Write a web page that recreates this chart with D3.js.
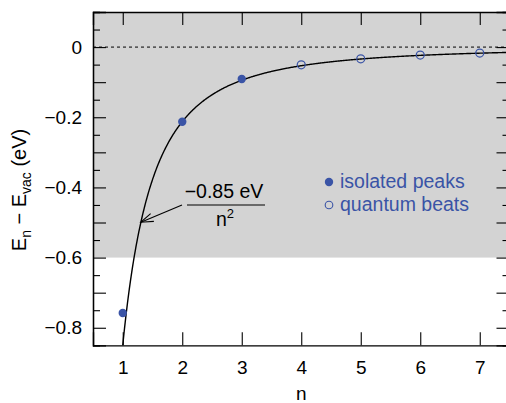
<!DOCTYPE html>
<html>
<head>
<meta charset="utf-8">
<script src="https://cdn.jsdelivr.net/npm/d3@7"></script>
<style>
  html, body { margin: 0; padding: 0; background: #fff; }
  svg { display: block; font-family: "Liberation Sans", Arial, Helvetica, sans-serif; }
</style>
</head>
<body>
<svg id="chart" width="506" height="403"></svg>
<script>
// Binding energies of Rydberg levels relative to the vacuum level
const isolatedN = [1, 2, 3];
const isolatedE = [-0.758, -0.213, -0.091];
const beatsN = [4, 5, 6, 7];
const beatsE = [-0.0506, -0.0334, -0.0229, -0.0171];
const rydbergConst = -0.85; // eV, E_n = -0.85 eV / n^2
const xTicks = [1, 2, 3, 4, 5, 6, 7];
const yMajor = [0, -0.1, -0.2, -0.3, -0.4, -0.5, -0.6, -0.7, -0.8];
const yLabeled = [0, -0.2, -0.4, -0.6, -0.8];
const yMinor = [0.05, -0.05, -0.15, -0.25, -0.35, -0.45, -0.55, -0.65, -0.75];
const shadeTop = 0.1, shadeBottom = -0.6;
const legendLabels = ["isolated peaks", "quantum beats"];

const blue = "#3a54a6";
const svg = d3.select("#chart");
const mLeft = 93, mRight = 509.5, mTop = 12, mBottom = 345.3;

const x = d3.scaleLinear().domain([0.5, 7.5]).range([mLeft, mRight]);
const y = d3.scaleLinear().domain([-0.85, 0.1]).range([mBottom, mTop]);

// shaded band
svg.append("rect")
  .attr("x", mLeft).attr("width", mRight - mLeft)
  .attr("y", y(shadeTop)).attr("height", y(shadeBottom) - y(shadeTop))
  .attr("fill", "#d3d3d3");

// vacuum level
svg.append("line")
  .attr("x1", mLeft).attr("x2", mRight)
  .attr("y1", y(0)).attr("y2", y(0))
  .attr("stroke", "#000").attr("stroke-width", 1)
  .attr("stroke-dasharray", "3,3");

// axes with inward ticks
const fs = "19px";
const axB = svg.append("g").attr("transform", `translate(0,${mBottom})`)
  .call(d3.axisBottom(x).tickValues(xTicks).tickSize(-13).tickPadding(15).tickFormat(d3.format("d")));
const axT = svg.append("g").attr("transform", `translate(0,${mTop})`)
  .call(d3.axisTop(x).tickValues(xTicks).tickSize(-13).tickFormat(""));
const fmtY = d => yLabeled.some(v => Math.abs(v - d) < 1e-9) ? (d === 0 ? "0" : d3.format(".1f")(d).replace("-", "\u2212")) : "";
const axL = svg.append("g").attr("transform", `translate(${mLeft},0)`)
  .call(d3.axisLeft(y).tickValues(yMajor).tickSize(-13).tickPadding(11).tickFormat(fmtY));
const axLm = svg.append("g").attr("transform", `translate(${mLeft},0)`)
  .call(d3.axisLeft(y).tickValues(yMinor).tickSize(-7).tickFormat(""));
const axR = svg.append("g").attr("transform", `translate(${mRight},0)`)
  .call(d3.axisRight(y).tickValues(yMajor).tickSize(-13).tickFormat(""));
const axRm = svg.append("g").attr("transform", `translate(${mRight},0)`)
  .call(d3.axisRight(y).tickValues(yMinor).tickSize(-7).tickFormat(""));
[axB, axT, axL, axLm, axR, axRm].forEach(g => {
  g.select(".domain").attr("stroke", "#000").attr("stroke-width", 1.3);
  g.selectAll(".tick line").attr("stroke", "#000").attr("stroke-width", 1.1);
  g.selectAll("text").attr("fill", "#000").style("font-size", fs).style("font-family", "inherit");
});

// model curve
const nCurve = d3.range(1, 7.5001, 0.01);
svg.append("path")
  .datum(nCurve)
  .attr("fill", "none").attr("stroke", "#000").attr("stroke-width", 1.4)
  .attr("d", d3.line().x(n => x(n)).y(n => y(rydbergConst / (n * n))));

// measured levels
svg.selectAll("circle.iso").data(isolatedN).join("circle")
  .attr("class", "iso")
  .attr("cx", n => x(n)).attr("cy", (n, i) => y(isolatedE[i]))
  .attr("r", 4.2).attr("fill", blue);
svg.selectAll("circle.beat").data(beatsN).join("circle")
  .attr("class", "beat")
  .attr("cx", n => x(n)).attr("cy", (n, i) => y(beatsE[i]))
  .attr("r", 4).attr("fill", "none").attr("stroke", blue).attr("stroke-width", 1.2);

// legend
const lg = svg.append("g").attr("transform", "translate(329,182)");
lg.append("circle").attr("cx", 0).attr("cy", 0).attr("r", 4.2).attr("fill", blue);
lg.append("circle").attr("cx", 0).attr("cy", 23).attr("r", 3.8).attr("fill", "none").attr("stroke", blue).attr("stroke-width", 1.1);
lg.selectAll("text").data(legendLabels).join("text")
  .attr("x", 11).attr("y", (d, i) => 6 + i * 23)
  .attr("fill", blue).style("font-size", "19.5px")
  .text(d => d);

// annotation: E_n = -0.85 eV / n^2
const ann = svg.append("g");
ann.append("text").attr("x", 224).attr("y", 198).attr("text-anchor", "middle")
  .style("font-size", "19.5px").text("\u22120.85 eV");
ann.append("line").attr("x1", 187).attr("x2", 265).attr("y1", 205).attr("y2", 205)
  .attr("stroke", "#000").attr("stroke-width", 1.2);
const nt = ann.append("text").attr("x", 225).attr("y", 226).attr("text-anchor", "middle")
  .style("font-size", "19.5px");
nt.append("tspan").text("n");
nt.append("tspan").attr("dy", -8).style("font-size", "13px").text("2");

// arrow pointing to the curve
const nTip = 1.305;
const tip = [x(nTip), y(rydbergConst / (nTip * nTip))];
const tail = [182, 205];
ann.append("line").attr("x1", tail[0]).attr("y1", tail[1]).attr("x2", tip[0]).attr("y2", tip[1])
  .attr("stroke", "#000").attr("stroke-width", 1.1);
const ang = Math.atan2(tail[1] - tip[1], tail[0] - tip[0]);
const headLen = 13, spread = 0.33;
const barbs = [ang - spread, ang + spread].map(a => [tip[0] + headLen * Math.cos(a), tip[1] + headLen * Math.sin(a)]);
ann.append("path")
  .attr("d", `M${barbs[0][0]},${barbs[0][1]}L${tip[0]},${tip[1]}L${barbs[1][0]},${barbs[1][1]}`)
  .attr("fill", "none").attr("stroke", "#000").attr("stroke-width", 1.1);

// axis titles
svg.append("text").attr("x", x(4)).attr("y", 400).attr("text-anchor", "middle")
  .style("font-size", "19px").text("n");
const yt = svg.append("text")
  .attr("transform", "translate(26,190) rotate(-90)")
  .attr("text-anchor", "middle").style("font-size", "20px");
yt.append("tspan").text("E");
yt.append("tspan").attr("dy", 5).style("font-size", "14px").text("n");
yt.append("tspan").attr("dy", -5).text(" \u2212 E");
yt.append("tspan").attr("dy", 5).style("font-size", "14px").text("vac");
yt.append("tspan").attr("dy", -5).text(" (eV)");
</script>
</body>
</html>
